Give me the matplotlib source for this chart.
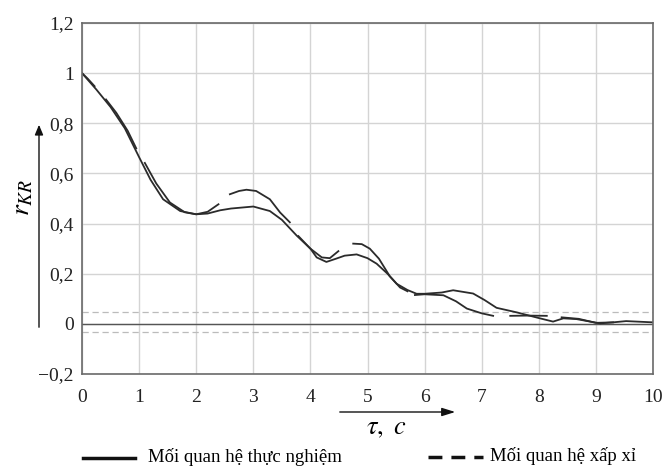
import matplotlib
matplotlib.use("Agg")
import matplotlib.pyplot as plt
from matplotlib.lines import Line2D
from matplotlib.patches import FancyArrowPatch

plt.rcParams['font.family'] = ['Liberation Serif', 'DejaVu Serif']
plt.rcParams['mathtext.fontset'] = 'stix'

t_exp = [0, 0.25, 0.5, 0.75, 1.0, 1.2, 1.42, 1.72, 2.0, 2.2, 2.42, 2.61, 3.0, 3.29,
         3.5, 3.76, 4.0, 4.11, 4.28, 4.45, 4.6, 4.81, 5.0, 5.16, 5.35, 5.51, 5.7,
         5.86, 6.0, 6.3, 6.5, 6.85, 7.05, 7.26, 7.61, 8.02, 8.25, 8.43, 8.66, 9.07,
         9.3, 9.53, 10.0]
r_exp = [1.0, 0.935, 0.865, 0.78, 0.665, 0.575, 0.497, 0.45, 0.437, 0.44, 0.453, 0.46,
         0.468, 0.45, 0.415, 0.352, 0.30, 0.265, 0.247, 0.26, 0.272, 0.277, 0.262,
         0.24, 0.20, 0.16, 0.135, 0.12, 0.12, 0.125, 0.134, 0.121, 0.095, 0.064,
         0.046, 0.022, 0.009, 0.022, 0.019, 0.002, 0.006, 0.011, 0.006]

# approximating pieces
seg_t = [
    [0, 0.1, 0.22],
    [0.42, 0.6, 0.8, 0.95],
    [1.1, 1.3, 1.54, 1.8, 2.0, 2.2, 2.39],
    [2.59, 2.75, 2.88, 3.05, 3.29, 3.47, 3.64],
    [3.79, 4.0, 4.2, 4.34, 4.49],
    [4.75, 4.9, 5.04, 5.2, 5.39, 5.57, 5.7],
    [5.83, 6.0, 6.33, 6.55, 6.74, 7.0, 7.2],
    [7.5, 7.8, 8.14],
    [8.4, 8.7, 9.0, 9.3],
]
seg_r = [
    [1.0, 0.978, 0.948],
    [0.895, 0.842, 0.77, 0.7],
    [0.642, 0.56, 0.484, 0.445, 0.437, 0.447, 0.477],
    [0.517, 0.53, 0.535, 0.53, 0.497, 0.444, 0.405],
    [0.35, 0.30, 0.265, 0.262, 0.29],
    [0.32, 0.318, 0.30, 0.26, 0.19, 0.145, 0.13],
    [0.115, 0.118, 0.114, 0.09, 0.061, 0.042, 0.032],
    [0.032, 0.033, 0.032],
    [0.026, 0.02, 0.004, 0.006],
]

y_ticks = [-0.2, 0, 0.2, 0.4, 0.6, 0.8, 1.0, 1.2]
y_labels = ['\u22120,2', '0', '0,2', '0,4', '0,6', '0,8', '1', '1,2']
x_ticks = list(range(0, 11))
band_hi, band_lo = 0.046, -0.034

W, H = 662, 468
fig = plt.figure(figsize=(6.62, 4.68), dpi=100)
ax = fig.add_axes([82 / W, 1 - 374 / H, 571 / W, 351 / H])

ax.set_xlim(0, 10)
ax.set_ylim(-0.2, 1.2)
ax.set_xticks(x_ticks)
ax.set_yticks(y_ticks)
ax.set_yticklabels(y_labels)
ax.grid(True, color='#d4d4d4', linewidth=1.0)
ax.set_axisbelow(True)
ax.tick_params(axis='both', length=0, labelsize=14, colors='#222222')
ax.tick_params(axis='x', pad=11)
ax.tick_params(axis='y', pad=6)
for s in ax.spines.values():
    s.set_color('#6a6a6a')
    s.set_linewidth(1.2)

ax.axhline(0, color='#555555', linewidth=1.0)
ax.axhline(band_hi, color='#bbbbbb', linewidth=0.9, linestyle=(0, (5, 3)))
ax.axhline(band_lo, color='#bbbbbb', linewidth=0.9, linestyle=(0, (5, 3)))

ax.plot(t_exp, r_exp, color='#2b2b2b', linewidth=1.3)
for ts, rs in zip(seg_t, seg_r):
    ax.plot(ts, rs, color='#2b2b2b', linewidth=1.3)

# axis arrows and labels
fig.add_artist(FancyArrowPatch(
    (39 / W, 1 - 330 / H), (39 / W, 1 - 122 / H),
    transform=fig.transFigure, arrowstyle='-|>,head_length=6,head_width=2.5',
    color='#111111', linewidth=1.0))
fig.text(23 / W, 1 - 197 / H, r'$r_{KR}$', rotation=90, fontsize=20,
         ha='center', va='center')

fig.add_artist(FancyArrowPatch(
    (337 / W, 1 - 412 / H), (458 / W, 1 - 412 / H),
    transform=fig.transFigure, arrowstyle='-|>,head_length=8,head_width=2.5',
    color='#111111', linewidth=1.0))
fig.text(386 / W, 1 - 429 / H, r'$\tau,\ c$', fontsize=19,
         ha='center', va='center')

# legend below the chart
fig.add_artist(Line2D([83 / W, 135 / W], [1 - 458 / H] * 2,
                      transform=fig.transFigure, color='#111111', linewidth=2.5))
fig.text(148 / W, 1 - 457 / H, 'Mối quan hệ thực nghiệm', fontsize=13.5,
         ha='left', va='center')
fig.add_artist(Line2D([428 / W, 483 / W], [1 - 457 / H] * 2,
                      transform=fig.transFigure, color='#111111', linewidth=2.5,
                      linestyle=(0, (4, 2.6))))
fig.text(490 / W, 1 - 456 / H, 'Mối quan hệ xấp xỉ', fontsize=13.5,
         ha='left', va='center')

fig.savefig('out.png', dpi=100)
